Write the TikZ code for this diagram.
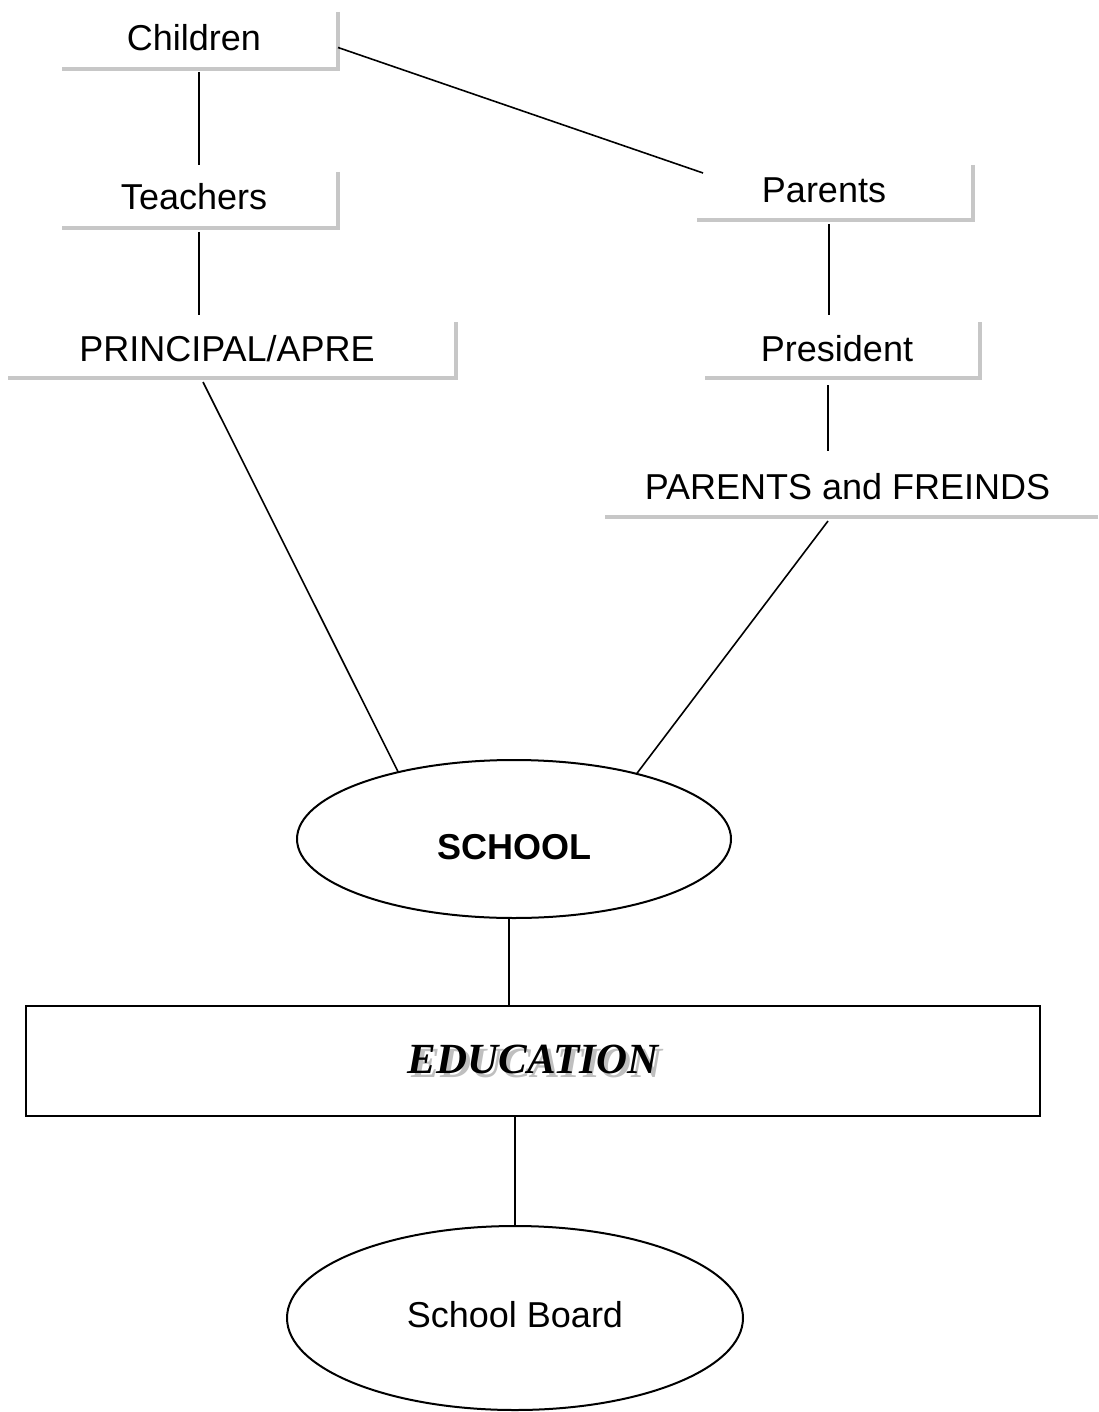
\documentclass[tikz,border=0pt]{standalone}
\usepackage{fontspec}
\setmainfont{Liberation Sans}
\newfontfamily\edufont{Liberation Serif}
\usetikzlibrary{shapes.geometric,calc}
\tikzset{
  lbl/.style={draw=none, inner sep=0pt, outer sep=0pt, font=\fontsize{36}{40}\selectfont},
  shadowline/.style={draw=black!22, line width=4pt},
  conn/.style={draw=black, line width=1.6pt},
  oval/.style={ellipse, draw=black, line width=2pt, inner sep=0pt, outer sep=0pt},
  bigbox/.style={rectangle, draw=black, line width=2pt, inner sep=0pt, outer sep=0pt}
}
\begin{document}
\begin{tikzpicture}[x=1pt,y=-1pt]
\useasboundingbox (0,0) rectangle (1098,1412);
% boxes with shadow lines
\node[lbl, minimum width=276pt, minimum height=57pt, text height=26pt, text depth=5pt] (children) at (200,40.5) {\hspace*{-12pt}Children};
\node[lbl, minimum width=276pt, minimum height=56pt, text height=26pt, text depth=7pt] (teachers) at (200,200) {\hspace*{-12pt}Teachers};
\node[lbl, minimum width=448pt, minimum height=56pt, text height=26pt, text depth=4pt] (principal) at (232,350) {\hspace*{-10pt}PRINCIPAL/APRE};
\node[lbl, minimum width=276pt, minimum height=55pt, text height=26pt, text depth=6pt] (parents) at (835,192.5) {\hspace*{-22pt}Parents};
\node[lbl, minimum width=275pt, minimum height=56pt, text height=26pt, text depth=4pt] (president) at (842.5,350) {\hspace*{-11pt}President};
\node[lbl, minimum width=493pt, minimum height=58pt, text height=26pt, text depth=4pt] (pf) at (851.5,488) {\hspace*{-8pt}PARENTS and FREINDS};
\foreach \n in {children,teachers,principal,parents,president}{
  \draw[shadowline] (\n.north east) -- (\n.south east) -- (\n.south west);
}
\draw[shadowline] (pf.south east) -- (pf.south west);
% ellipses and box
\node[oval, minimum width=434pt, minimum height=158pt, text height=40pt, text depth=0pt, font=\fontsize{36}{40}\selectfont\bfseries] (school) at (514,839) {SCHOOL};
\node[bigbox, minimum width=1014pt, minimum height=110pt] (education) at (533,1061)
  {\edufont\bfseries\itshape\fontsize{43}{46}\selectfont\makebox[0pt][l]{\hspace{4pt}\raisebox{-4pt}{\color{black!25}EDUCATION}}EDUCATION};
\node[oval, minimum width=456pt, minimum height=184pt, text height=26pt, text depth=8pt, font=\fontsize{36}{40}\selectfont] (board) at (515,1318) {School Board};
% connectors
\draw[conn] ([xshift=-1pt,yshift=-3pt]children.south) -- ([xshift=-1pt,yshift=7pt]teachers.north);
\draw[conn] ([yshift=-7pt]children.east) -- ([xshift=6pt,yshift=-8pt]parents.north west);
\draw[conn] ([xshift=-1pt,yshift=-4pt]teachers.south) -- ([xshift=-1pt,yshift=7pt]teachers.south |- principal.north);
\draw[conn] ([xshift=-6pt,yshift=-4pt]parents.south) -- ([xshift=-6pt,yshift=7pt]parents.south |- president.north);
\draw[conn] ([xshift=-14.5pt,yshift=-7pt]president.south) -- ([xshift=-14.5pt,yshift=8pt]president.south |- pf.north);
\draw[conn] ([xshift=-29pt,yshift=-4pt]principal.south) -- (school.150);
\draw[conn] ([xshift=-23.5pt,yshift=-4pt]pf.south) -- (school.28);
\draw[conn] ([xshift=-5pt]school.south) -- ([xshift=-5pt]school.south |- education.north);
\draw[conn] (board.north |- education.south) -- (board.north);
\end{tikzpicture}
\end{document}
